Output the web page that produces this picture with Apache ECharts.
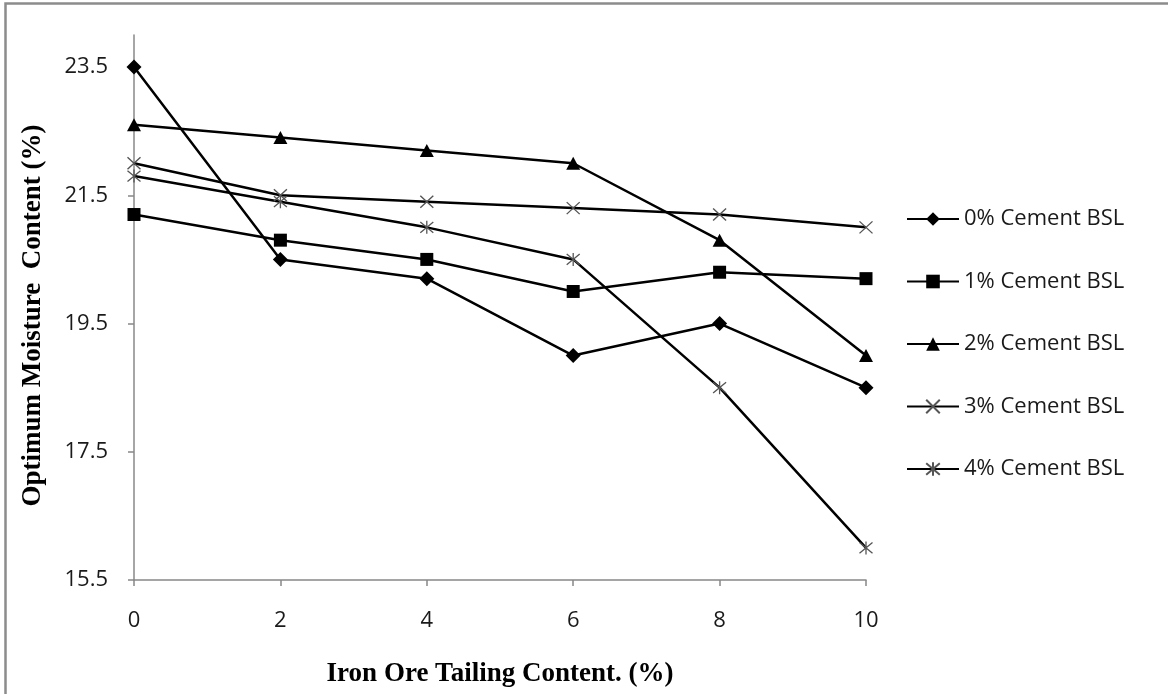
<!DOCTYPE html>
<html>
<head>
<meta charset="utf-8">
<script src="https://cdn.jsdelivr.net/npm/echarts@6/dist/echarts.min.js"></script>
<style>
html,body{margin:0;padding:0;background:#fff;}
#chart{width:1168px;height:694px;}
</style>
</head>
<body>
<div id="chart"></div>
<script>
const xValues = [0, 2, 4, 6, 8, 10];
const seriesNames = ['0% Cement BSL', '1% Cement BSL', '2% Cement BSL', '3% Cement BSL', '4% Cement BSL'];
const cement0 = [23.5, 20.5, 20.2, 19.0, 19.5, 18.5];
const cement1 = [21.2, 20.8, 20.5, 20.0, 20.3, 20.2];
const cement2 = [22.6, 22.4, 22.2, 22.0, 20.8, 19.0];
const cement3 = [22.0, 21.5, 21.4, 21.3, 21.2, 21.0];
const cement4 = [21.8, 21.4, 21.0, 20.5, 18.5, 16.0];
const yTicks = [15.5, 17.5, 19.5, 21.5, 23.5];
const xTicks = [0, 2, 4, 6, 8, 10];

const allData = [cement0, cement1, cement2, cement3, cement4];
const pair = arr => xValues.map((x, i) => [x, arr[i]]);

const markers = [
  {symbol: 'diamond', size: [15, 15], hollow: false},
  {symbol: 'rect', size: [13, 13], hollow: false},
  {symbol: 'triangle', size: [14, 13], hollow: false},
  {symbol: 'path://M0,0L10,10M10,0L0,10', size: [13, 12], hollow: true},
  {symbol: 'path://M0,0L10,10M10,0L0,10M5,-1L5,11', size: [13, 13], hollow: true}
];

const series = seriesNames.map((name, i) => {
  const m = markers[i];
  return {
    name: name,
    type: 'line',
    data: pair(allData[i]),
    symbol: m.symbol,
    symbolSize: m.size,
    symbolKeepAspect: false,
    showSymbol: true,
    lineStyle: {color: '#000', width: 2.5},
    itemStyle: m.hollow
      ? {color: 'rgba(0,0,0,0)', borderColor: '#555', borderWidth: 1.3}
      : {color: '#000', borderWidth: 0},
    emphasis: {disabled: true},
    animation: false
  };
});

const axisGray = '#888888';
const chart = echarts.init(document.getElementById('chart'), null, {renderer: 'canvas'});
chart.setOption({
  animation: false,
  backgroundColor: '#fff',
  graphic: [{
    type: 'rect',
    shape: {x: 5.5, y: 3.5, width: 1300, height: 900},
    style: {fill: 'none', stroke: '#8c8c8c', lineWidth: 2.5},
    silent: true
  }],
  grid: {left: 134, right: 302, top: 35, bottom: 114, containLabel: false, outerBoundsMode: 'none'},
  xAxis: {
    type: 'value',
    min: 0, max: 10, interval: 2,
    name: 'Iron Ore Tailing Content. (%)',
    nameLocation: 'middle',
    nameGap: 81,
    nameTextStyle: {fontFamily: 'Liberation Serif', fontWeight: 'bold', fontSize: 27, color: '#000'},
    axisLine: {show: true, lineStyle: {color: axisGray, width: 1.5}},
    axisTick: {show: true, inside: false, length: 6, lineStyle: {color: axisGray, width: 1.5}},
    axisLabel: {margin: 30, fontFamily: 'Open Sans', fontSize: 22, color: '#1a1a1a'},
    splitLine: {show: false}
  },
  yAxis: {
    type: 'value',
    min: 15.5, max: 24,
    name: 'Optimum Moisture  Content (%)',
    nameLocation: 'middle',
    nameGap: 87,
    nameTextStyle: {fontFamily: 'Liberation Serif', fontWeight: 'bold', fontSize: 27, color: '#000', padding: [0, 16, 0, 0]},
    axisLine: {show: true, onZero: false, lineStyle: {color: axisGray, width: 1.5}},
    axisTick: {show: true, inside: false, length: 6, customValues: yTicks, lineStyle: {color: axisGray, width: 1.5}},
    axisLabel: {margin: 26, fontFamily: 'Open Sans', fontSize: 22, color: '#1a1a1a', customValues: yTicks,
      formatter: v => v.toFixed(1)},
    splitLine: {show: false}
  },
  legend: {
    orient: 'vertical',
    left: 901,
    top: 203,
    itemWidth: 52,
    itemHeight: 17,
    itemGap: 40.5,
    data: seriesNames,
    textStyle: {fontFamily: 'Open Sans', fontSize: 22, color: '#1a1a1a', lineHeight: 22},
    selectedMode: false
  },
  series: series
});
</script>
</body>
</html>
